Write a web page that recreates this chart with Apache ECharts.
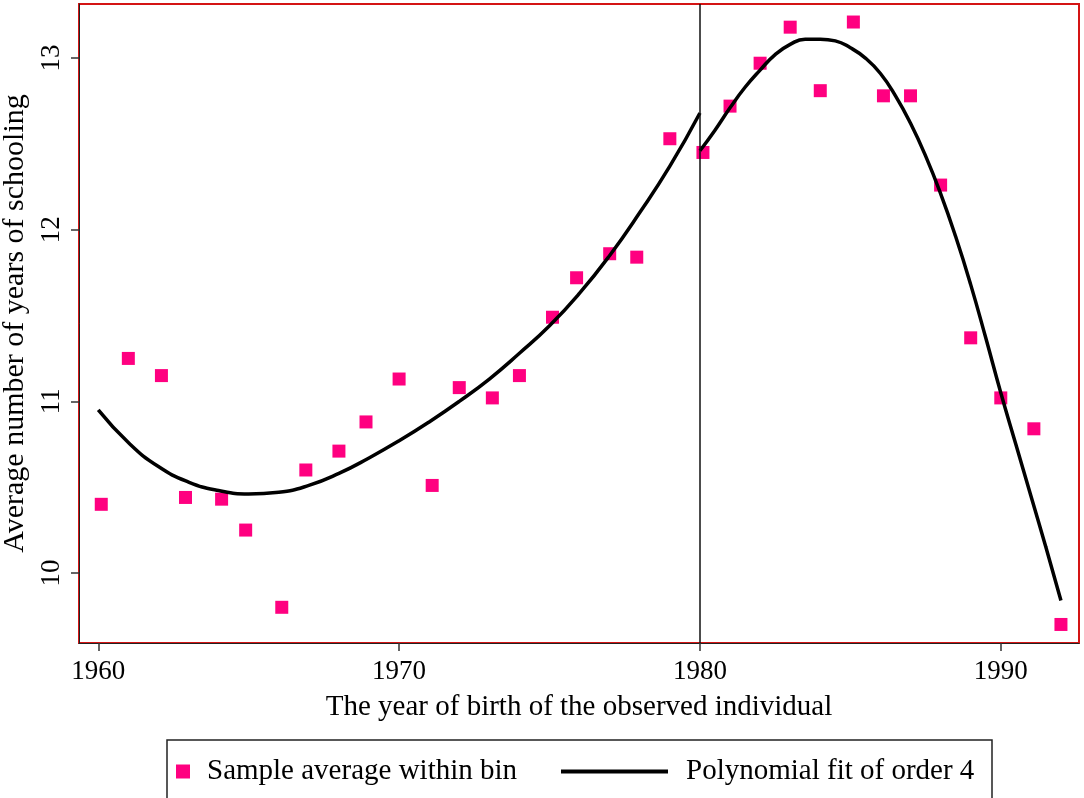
<!DOCTYPE html>
<html>
<head>
<meta charset="utf-8">
<script src="https://cdn.jsdelivr.net/npm/echarts@6/dist/echarts.min.js"></script>
<style>
  html, body { margin: 0; padding: 0; background: #fff; }
  #chart { width: 1084px; height: 798px; }
</style>
</head>
<body>
<div id="chart"></div>
<script>
// bin averages: [birth year (bin centre), average years of schooling]
const binYears = [1960.1, 1961.0, 1962.1, 1962.9, 1964.1, 1964.9, 1966.1, 1966.9, 1968.0, 1968.9,
  1970.0, 1971.1, 1972.0, 1973.1, 1974.0, 1975.1, 1975.9, 1977.0, 1977.9, 1979.0,
  1980.1, 1981.0, 1982.0, 1983.0, 1984.0, 1985.1, 1986.1, 1987.0, 1988.0, 1989.0,
  1990.0, 1991.1, 1992.0];
const binValues = [10.40, 11.25, 11.15, 10.44, 10.43, 10.25, 9.80, 10.60, 10.71, 10.88,
  11.13, 10.51, 11.08, 11.02, 11.15, 11.49, 11.72, 11.86, 11.84, 12.53,
  12.45, 12.72, 12.97, 13.18, 12.81, 13.21, 12.78, 12.78, 12.26, 11.37,
  11.02, 10.84, 9.70];

// fitted curve, left and right of the cutoff
const fitLeftYears = [1960.0, 1961.0, 1962.0, 1963.0, 1964.0, 1965.0, 1966.0, 1967.0, 1968.0, 1969.0,
  1970.0, 1971.0, 1972.0, 1973.0, 1974.0, 1975.0, 1976.0, 1977.0, 1978.0, 1979.0, 1980.0];
const fitLeftValues = [10.95, 10.76, 10.62, 10.53, 10.48, 10.46, 10.47, 10.51, 10.58, 10.67,
  10.77, 10.88, 11.00, 11.13, 11.28, 11.44, 11.63, 11.85, 12.10, 12.37, 12.68];
const fitRightYears = [1980.0, 1980.5, 1981.0, 1981.5, 1982.0, 1982.5, 1983.0, 1983.5, 1984.0, 1984.5,
  1985.0, 1985.5, 1986.0, 1986.5, 1987.0, 1987.5, 1988.0, 1988.5, 1989.0, 1989.5, 1990.0,
  1990.5, 1991.0, 1991.5, 1992.0];
const fitRightValues = [12.46, 12.58, 12.71, 12.83, 12.93, 13.02, 13.08, 13.11, 13.11, 13.10,
  13.06, 13.00, 12.91, 12.78, 12.62, 12.43, 12.21, 11.96, 11.68, 11.37, 11.05,
  10.75, 10.45, 10.15, 9.84];

const cutoff = 1980;
const xTicks = [1960, 1970, 1980, 1990];
const yTicks = [10, 11, 12, 13];

const FONT = "'Liberation Serif', 'DejaVu Serif', serif";
const PINK = '#ff0080';

const binData = binYears.map((x, i) => [x, binValues[i]]);
const fitData = fitLeftYears.map((x, i) => [x, fitLeftValues[i]])
  .concat([[cutoff, null]])
  .concat(fitRightYears.map((x, i) => [x, fitRightValues[i]]));

const chart = echarts.init(document.getElementById('chart'));
chart.setOption({
  backgroundColor: '#fff',
  animation: false,
  grid: {
    left: 79, right: 5, top: 4, bottom: 155,
    outerBoundsMode: 'none', containLabel: false,
    show: true, borderColor: '#d41414', borderWidth: 2, backgroundColor: '#fff'
  },
  xAxis: {
    type: 'value',
    min: 1959.36, max: 1992.6,
    name: 'The year of birth of the observed individual',
    nameLocation: 'middle', nameGap: 50,
    nameTextStyle: { fontFamily: FONT, fontSize: 29, color: '#000' },
    splitLine: { show: false },
    axisLine: { show: true, onZero: false, lineStyle: { color: '#222', width: 1 } },
    axisTick: { show: true, length: 8, customValues: xTicks, lineStyle: { color: '#333', width: 1.5 } },
    axisLabel: { customValues: xTicks, margin: 15, fontFamily: FONT, fontSize: 27, color: '#000',
      formatter: v => String(Math.round(v)) }
  },
  yAxis: {
    type: 'value',
    min: 9.592, max: 13.315,
    name: 'Average number of years of schooling',
    nameLocation: 'middle', nameGap: 39,
    nameTextStyle: { fontFamily: FONT, fontSize: 30, color: '#000' },
    splitLine: { show: false },
    axisLine: { show: true, onZero: false, lineStyle: { color: '#222', width: 1 } },
    axisTick: { show: true, length: 8, customValues: yTicks, lineStyle: { color: '#333', width: 1.5 } },
    axisLabel: { customValues: yTicks, rotate: 90, margin: 14, fontFamily: FONT, fontSize: 27, color: '#000',
      formatter: v => String(Math.round(v)) }
  },
  legend: [
    {
      data: [{ name: 'Sample average within bin', icon: 'rect' }],
      left: 171, top: 752, itemWidth: 14, itemHeight: 14,
      selectedMode: false,
      textStyle: { fontFamily: FONT, fontSize: 29, color: '#000', padding: [0, 0, 0, 12] }
    },
    {
      data: [{ name: 'Polynomial fit of order 4', icon: 'rect' }],
      left: 556, top: 752, itemWidth: 107, itemHeight: 4,
      selectedMode: false,
      textStyle: { fontFamily: FONT, fontSize: 29, color: '#000', padding: [0, 0, 0, 13] }
    }
  ],
  graphic: [{
    type: 'rect', silent: true, z: -1,
    shape: { x: 167, y: 740, width: 825, height: 62 },
    style: { fill: '#fff', stroke: '#222', lineWidth: 1.5 }
  }],
  series: [
    {
      name: 'Sample average within bin',
      type: 'scatter',
      symbol: 'rect',
      symbolSize: 13,
      itemStyle: { color: PINK, opacity: 1 },
      data: binData,
      markLine: {
        silent: true,
        symbol: 'none',
        label: { show: false },
        lineStyle: { color: '#111', width: 1.5, type: 'solid' },
        data: [{ xAxis: cutoff }]
      },
      z: 3
    },
    {
      name: 'Polynomial fit of order 4',
      type: 'line',
      smooth: true,
      symbol: 'none',
      showSymbol: false,
      connectNulls: false,
      lineStyle: { color: '#000', width: 3.5 },
      itemStyle: { color: '#000' },
      data: fitData,
      z: 4
    }
  ]
});
</script>
</body>
</html>
